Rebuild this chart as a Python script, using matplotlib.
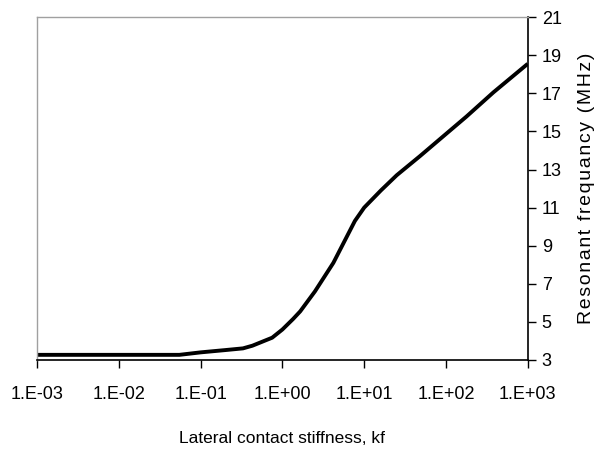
import numpy as np
import matplotlib
matplotlib.use("Agg")
import matplotlib.pyplot as plt
from matplotlib.ticker import FixedLocator, NullLocator

plt.rcParams['font.family'] = ['Liberation Sans', 'DejaVu Sans']

# lateral contact stiffness kf and resonant frequency (MHz)
kf = [0.001, 0.01, 0.055, 0.1, 0.2, 0.33, 0.43, 0.75, 1.0, 1.35, 1.65, 2.5,
      4.2, 7.7, 10, 16, 25, 48, 93, 178, 380, 1000]
freq = [3.27, 3.27, 3.27, 3.40, 3.52, 3.61, 3.75, 4.17, 4.6, 5.15, 5.55, 6.6,
        8.1, 10.3, 11.0, 11.9, 12.7, 13.7, 14.75, 15.78, 17.05, 18.55]

xticks = [1e-3, 1e-2, 1e-1, 1e0, 1e1, 1e2, 1e3]
xlabels = ["1.E-03", "1.E-02", "1.E-01", "1.E+00", "1.E+01", "1.E+02", "1.E+03"]
yticks = [3, 5, 7, 9, 11, 13, 15, 17, 19, 21]

fig = plt.figure(figsize=(5.97, 4.51), dpi=100)
ax = fig.add_axes([0.062, 0.2018, 0.822, 0.7602])

ax.plot(kf, freq, color="black", lw=2.8, solid_capstyle="butt")

ax.set_xscale("log")
ax.set_xlim(1e-3, 1e3)
ax.set_ylim(3, 21)
ax.xaxis.set_major_locator(FixedLocator(xticks))
ax.xaxis.set_minor_locator(NullLocator())
ax.set_xticklabels(xlabels)
ax.set_yticks(yticks)

ax.yaxis.tick_right()
ax.yaxis.set_label_position("right")
ax.tick_params(axis="both", direction="out", length=6, width=1, colors="black",
               labelsize=13)
ax.tick_params(axis="x", pad=13)
ax.tick_params(axis="y", pad=4)

for side in ["top", "left"]:
    ax.spines[side].set_color("#a0a0a0")
    ax.spines[side].set_linewidth(1)
for side in ["bottom", "right"]:
    ax.spines[side].set_color("black")
    ax.spines[side].set_linewidth(1.2)

ax.set_xlabel("Lateral contact stiffness, kf", fontsize=12.5, labelpad=20)
ylab = "\u200a".join("Resonant frequancy (MHz)")
ax.set_ylabel(ylab, fontsize=14, labelpad=12)

fig.savefig("out.png", dpi=100)
